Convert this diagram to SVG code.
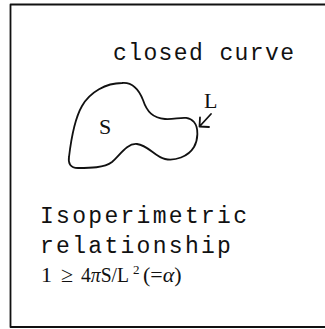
<svg xmlns="http://www.w3.org/2000/svg" width="325" height="329" viewBox="0 0 325 329">
<style>
.t{font-family:"Liberation Mono","DejaVu Sans Mono",monospace;font-size:23px;fill:#111}
.s{font-family:"Liberation Serif","DejaVu Serif",serif;font-size:22px;fill:#111}
.sup{font-family:"Liberation Serif","DejaVu Serif",serif;font-size:13px;fill:#111}
.ln{fill:none;stroke:#111;stroke-width:1.8;stroke-linecap:round;stroke-linejoin:round}
</style>
<rect x="0" y="0" width="325" height="329" fill="#fff"/>
<path class="ln" d="M330,4.5 H10.5 V327 H330" stroke-width="2"/>
<g id="title"><text class="t" x="113" y="60" letter-spacing="1.4">closed curve</text></g>
<g id="curve">
<path class="ln" d="M122,83 C132,82 139,90 143,100 C147,112 153,118 165,119 C177,120 187,114 194,122 C199,128 198,140 194,147 C188,157 175,161 165,159 C155,157 148,145 137,144 C127,143 120,155 112,162 C104,168 90,168 78,168 C70,168 68,163 69,157 C71,140 74,120 82,106 C90,92 106,83 122,83 Z"/>
<text class="s" x="99" y="134">S</text>
</g>
<g id="label-L">
<text class="s" x="204" y="108">L</text>
</g>
<g id="connectors">
<path class="ln" d="M211,114 L199.5,126.5 M200,117.5 L199.5,126.5 L209,127"/>
</g>
<g id="formula">
<text class="t" x="40" y="223" letter-spacing="2.3">Isoperimetric</text>
<text class="t" x="40" y="253" letter-spacing="2.3">relationship</text>
<text class="s" x="41" y="282">1</text>
<text class="s" x="61" y="282">≥</text>
<text class="s" x="81" y="282" textLength="48" lengthAdjust="spacingAndGlyphs">4<tspan font-style="italic">π</tspan>S/L</text>
<text class="sup" x="133" y="274">2</text>
<text class="s" x="143" y="282">(=<tspan font-style="italic">α</tspan>)</text>
</g>
</svg>
